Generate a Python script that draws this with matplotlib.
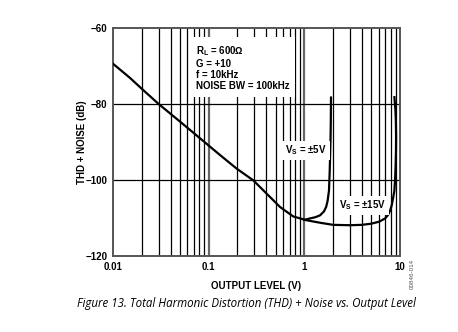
import numpy as np
import matplotlib
matplotlib.use("Agg")
import matplotlib.pyplot as plt
from matplotlib.ticker import FixedLocator, NullFormatter

# ±15V curve (also the common low-level part)
v15_x = [0.01, 0.015, 0.02, 0.03, 0.05, 0.081, 0.131, 0.196, 0.293, 0.404, 0.557,
         0.767, 1.06, 1.5, 2.0, 3.0, 4.0, 5.0, 6.0, 6.45, 7.0, 7.5, 7.9, 8.2, 8.5,
         8.74, 8.9, 9.0, 9.08, 9.1, 9.05, 8.95, 8.74]
v15_y = [-69.4, -73.1, -76.0, -80.0, -84.6, -89.0, -93.4, -97.0, -100.1, -103.6,
         -107.1, -109.6, -110.6, -111.3, -111.8, -111.9, -111.8, -111.5, -111.0,
         -110.6, -110.1, -109.2, -108.0, -106.6, -104.5, -102.8, -99.5, -96.0,
         -92.0, -88.5, -84.5, -81.5, -78.2]
# ±5V branch
v5_x = [1.0, 1.15, 1.3, 1.46, 1.6, 1.69, 1.75, 1.81, 1.84, 1.86, 1.88, 1.89, 1.9]
v5_y = [-110.5, -110.1, -109.8, -109.3, -108.3, -107.1, -105.5, -102.8, -98.0,
        -93.7, -89.0, -85.0, -78.3]

y_ticks = [-60, -80, -100, -120]
y_ticklabels = ["\u221260", "\u221280", "\u2212100", "\u2212120"]
x_ticks = [0.01, 0.1, 1, 10]
x_ticklabels = ["0.01", "0.1", "1", "10"]

plt.rcParams["font.family"] = ["Liberation Sans", "DejaVu Sans"]

fig = plt.figure(figsize=(4.58, 3.32), dpi=100)
ax = fig.add_axes([113 / 458, 1 - 256 / 332, 287 / 458, 228 / 332])

ax.set_xscale("log")
ax.set_xlim(0.01, 10)
ax.set_ylim(-120, -60)

# grid: every minor x line, plus -80/-100
minor = [m * d for d in (0.01, 0.1, 1) for m in range(2, 10)]
for xv in minor:
    ax.axvline(xv, color="black", lw=0.9, zorder=1)
for xv in (0.1, 1):
    ax.axvline(xv, color="#666666", lw=1.6, zorder=1)
for yv in (-80, -100):
    ax.axhline(yv, color="black", lw=0.9, zorder=1)

ax.plot(v15_x, v15_y, color="black", lw=1.6, zorder=3, solid_joinstyle="round")
ax.plot(v5_x, v5_y, color="black", lw=1.6, zorder=3, solid_joinstyle="round")

ax.xaxis.set_major_locator(FixedLocator(x_ticks))
ax.xaxis.set_minor_locator(FixedLocator(minor))
ax.xaxis.set_minor_formatter(NullFormatter())
ax.set_xticks(x_ticks)
ax.set_xticklabels(x_ticklabels)
ax.set_yticks(y_ticks)
ax.set_yticklabels(y_ticklabels)
ax.tick_params(which="both", length=0, labelsize=7, pad=4)
for lbl in ax.get_xticklabels() + ax.get_yticklabels():
    lbl.set_fontweight("bold")
for sp in ax.spines.values():
    sp.set_color("#555555")
    sp.set_linewidth(1.4)

ax.set_xlabel("OUTPUT LEVEL (V)", fontsize=7, fontweight="bold", labelpad=7)
ax.set_ylabel("THD + NOISE (dB)", fontsize=7, fontweight="bold", labelpad=-1)

box = dict(facecolor="white", edgecolor="none", pad=2)
ax.text(0.074, -64.2, "R$_\\mathregular{L}$ = 600\u2126\nG = +10\nf = 10kHz\nNOISE BW = 100kHz",
        fontsize=7, fontweight="bold", va="top", ha="left", linespacing=1.15,
        bbox=dict(facecolor="white", edgecolor="none", pad=4), zorder=4)
ax.text(0.63, -92.2, "V$_\\mathregular{S}$ = \u00b15V", fontsize=7, fontweight="bold",
        va="center", ha="left", bbox=box, zorder=4)
ax.text(2.3, -106.7, "V$_\\mathregular{S}$ = \u00b115V", fontsize=7, fontweight="bold",
        va="center", ha="left", bbox=box, zorder=4)

fig.text(412 / 458, 1 - 274 / 332, "00846-014", rotation=90, fontsize=4.5,
         color="#555555", ha="center", va="center")
fig.text(246 / 458, 1 - 304 / 332,
         "Figure 13. Total Harmonic Distortion (THD) + Noise vs. Output Level",
         fontsize=8.3, style="italic", ha="center", va="center",
         family=["Open Sans", "DejaVu Sans"])

fig.savefig("out.png", dpi=100)
